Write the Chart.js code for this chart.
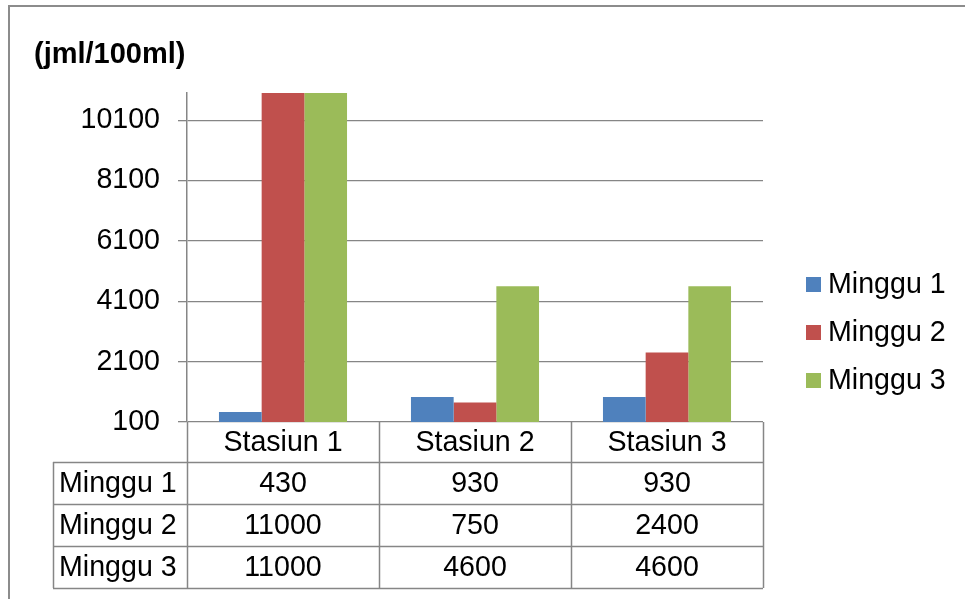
<!DOCTYPE html>
<html>
<head>
<meta charset="utf-8">
<script src="https://cdn.jsdelivr.net/npm/chart.js@4"></script>
<style>
    body { margin: 0; background: #fff; }
    #wrap { width: 965px; height: 599px; position: relative; }
</style>
</head>
<body>
<div id="wrap"><canvas id="chart"></canvas></div>
<script>
// ===== DATA =====
const stations = ["Stasiun 1", "Stasiun 2", "Stasiun 3"];
const week1 = [430, 930, 930];
const week2 = [11000, 750, 2400];
const week3 = [11000, 4600, 4600];
const weekNames = ["Minggu 1", "Minggu 2", "Minggu 3"];
const weekColors = ["#4F81BD", "#C0504D", "#9BBB59"];
const yTicks = [100, 2100, 4100, 6100, 8100, 10100];
const unitLabel = "(jml/100ml)";

const FONT = "'Liberation Sans', Arial, sans-serif";
const FONT_SIZE = 28.6;
const LINE = "#868686";

// ===== FRAME + TITLE =====
const framePlugin = {
    id: "frame",
    beforeDraw(chart) {
        const ctx = chart.ctx;
        ctx.save();
        ctx.fillStyle = "#fff";
        ctx.fillRect(0, 0, chart.width, chart.height);
        ctx.strokeStyle = "#8c8c8c";
        ctx.lineWidth = 2;
        ctx.beginPath();
        ctx.moveTo(chart.width, 6);
        ctx.lineTo(9, 6);
        ctx.lineTo(9, chart.height);
        ctx.stroke();

        ctx.fillStyle = "#000";
        ctx.font = "bold 29px " + FONT;
        ctx.textAlign = "left";
        ctx.textBaseline = "middle";
        ctx.fillText(unitLabel, 34, 55);
        ctx.restore();
    }
};

// ===== LEGEND =====
const legendPlugin = {
    id: "sideLegend",
    afterDraw(chart) {
        const ctx = chart.ctx;
        ctx.save();
        ctx.font = FONT_SIZE + "px " + FONT;
        ctx.textBaseline = "middle";
        ctx.textAlign = "left";
        chart.data.datasets.forEach((ds, i) => {
            const cy = 284 + i * 48;
            ctx.fillStyle = ds.backgroundColor;
            ctx.fillRect(806, cy - 7, 15, 15);
            ctx.fillStyle = "#000";
            ctx.fillText(ds.label, 828, cy + 1);
        });
        ctx.restore();
    }
};

// ===== DATA TABLE UNDER THE AXIS =====
const tablePlugin = {
    id: "dataTable",
    afterDraw(chart) {
        const ctx = chart.ctx;
        const x = chart.scales.x;
        const area = chart.chartArea;
        const colW = (area.right - area.left) / stations.length;
        const headerBottom = 462;
        const rowH = 42;
        const labelLeft = 53;
        const bottom = headerBottom + rowH * chart.data.datasets.length;

        ctx.save();
        ctx.strokeStyle = LINE;
        ctx.lineWidth = 1.5;
        ctx.beginPath();
        // column lines
        for (let i = 0; i <= stations.length; i++) {
            const cx = Math.round(area.left + i * colW) + 0.5;
            ctx.moveTo(cx, area.bottom);
            ctx.lineTo(cx, bottom);
        }
        ctx.moveTo(labelLeft + 0.5, headerBottom);
        ctx.lineTo(labelLeft + 0.5, bottom);
        // row lines
        for (let r = 0; r <= chart.data.datasets.length; r++) {
            const ry = headerBottom + r * rowH + 0.5;
            ctx.moveTo(labelLeft, ry);
            ctx.lineTo(area.right, ry);
        }
        ctx.stroke();

        ctx.fillStyle = "#000";
        ctx.font = FONT_SIZE + "px " + FONT;
        ctx.textBaseline = "middle";
        ctx.textAlign = "center";
        stations.forEach((s, i) => {
            ctx.fillText(s, x.getPixelForValue(i), (area.bottom + headerBottom) / 2 + 1);
        });
        chart.data.datasets.forEach((ds, r) => {
            const cy = headerBottom + r * rowH + rowH / 2 + 1;
            ctx.textAlign = "left";
            ctx.fillText(ds.label, labelLeft + 6, cy);
            ctx.textAlign = "center";
            ds.data.forEach((v, i) => {
                ctx.fillText(String(v), x.getPixelForValue(i), cy);
            });
        });
        ctx.restore();
    }
};

// ===== CHART =====
const seriesValues = [week1, week2, week3];

new Chart(document.getElementById("chart"), {
    type: "bar",
    data: {
        labels: stations,
        datasets: seriesValues.map((vals, i) => ({
            label: weekNames[i],
            data: vals,
            backgroundColor: weekColors[i],
            borderWidth: 0,
            categoryPercentage: 0.667,
            barPercentage: 1
        }))
    },
    options: {
        responsive: true,
        maintainAspectRatio: false,
        animation: false,
        layout: { padding: { top: 93, right: 202, bottom: 177, left: 0 } },
        plugins: {
            legend: { display: false },
            tooltip: { enabled: false }
        },
        scales: {
            x: { display: false },
            y: {
                min: 100,
                max: 11000,
                afterFit: s => { s.width = 187; },
                afterBuildTicks: s => { s.ticks = yTicks.map(v => ({ value: v })); },
                grid: { color: LINE, lineWidth: 1.3, tickLength: 9 },
                border: { color: LINE, width: 1.5 },
                ticks: {
                    padding: 18,
                    color: "#000",
                    font: { family: FONT, size: FONT_SIZE },
                    callback: v => String(v)
                }
            }
        }
    },
    plugins: [framePlugin, legendPlugin, tablePlugin]
});
</script>
</body>
</html>
